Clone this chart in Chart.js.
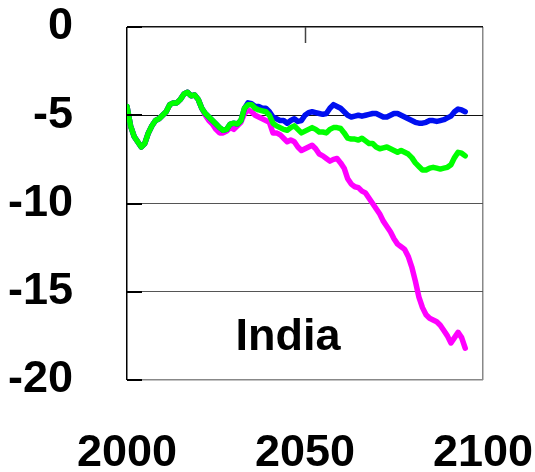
<!DOCTYPE html>
<html>
<head>
<meta charset="utf-8">
<script src="https://cdn.jsdelivr.net/npm/chart.js@4"></script>
<style>
  body { margin: 0; background: #fff; }
  #wrap { width: 535px; height: 472px; position: relative; }
</style>
</head>
<body>
<div id="wrap"><canvas id="c"></canvas></div>
<script>
// years 2000..2095, one value per year
const years = [];
for (let y = 2000; y <= 2095; y++) years.push(y);

const common = [-4.5,-5.6,-6.2,-6.5,-6.8,-6.6,-6.0,-5.6,-5.3,-5.2,-5.0,-4.8,-4.4,-4.3,-4.3,-4.1,-3.8,-3.7,-3.9,-3.85,-4.1,-4.6];

const greenTail = [-4.9,-5.1,-5.3,-5.5,-5.7,-5.85,-5.8,-5.5,-5.45,-5.5,-5.3,-4.6,-4.4,-4.4,-4.6,-4.7,-4.75,-4.8,-5.0,-5.45,
  -5.6,-5.7,-5.8,-5.85,-5.7,-5.6,-5.8,-6.0,-5.9,-5.8,-5.7,-5.8,-5.95,-5.95,-6.0,-5.8,-5.7,-5.7,-5.75,-6.0,
  -6.3,-6.35,-6.35,-6.4,-6.3,-6.45,-6.6,-6.6,-6.8,-6.9,-6.85,-6.8,-6.9,-7.0,-7.1,-7.0,-7.1,-7.2,-7.4,-7.7,
  -7.9,-8.1,-8.1,-8.0,-7.95,-8.0,-8.05,-8.0,-7.95,-7.8,-7.4,-7.1,-7.15,-7.3];

const blueTail = [-4.9,-5.1,-5.3,-5.5,-5.7,-5.85,-5.8,-5.5,-5.45,-5.5,-5.3,-4.6,-4.3,-4.35,-4.5,-4.5,-4.6,-4.6,-4.8,-5.1,
  -5.2,-5.3,-5.3,-5.45,-5.3,-5.2,-5.35,-5.3,-5.0,-4.85,-4.8,-4.85,-4.9,-4.95,-4.9,-4.6,-4.4,-4.5,-4.6,-4.8,
  -5.0,-5.1,-5.05,-5.0,-5.05,-5.0,-4.95,-4.9,-4.9,-5.0,-5.1,-5.1,-5.0,-4.9,-4.9,-5.0,-5.1,-5.2,-5.3,-5.4,
  -5.45,-5.45,-5.4,-5.3,-5.3,-5.35,-5.3,-5.25,-5.15,-5.05,-4.8,-4.65,-4.7,-4.8];

const magentaTail = [-5.0,-5.3,-5.5,-5.8,-6.0,-6.0,-5.9,-5.7,-5.8,-5.6,-5.4,-4.9,-4.7,-4.8,-5.0,-5.1,-5.2,-5.3,-5.4,-6.0,
  -6.0,-6.1,-6.3,-6.5,-6.4,-6.5,-6.8,-7.0,-6.9,-6.8,-6.7,-6.9,-7.2,-7.3,-7.45,-7.6,-7.5,-7.45,-7.7,-8.0,
  -8.6,-8.9,-9.05,-9.1,-9.3,-9.4,-9.7,-10.0,-10.3,-10.6,-11.0,-11.3,-11.6,-12.0,-12.3,-12.45,-12.6,-13.0,-13.6,-14.4,
  -15.3,-15.9,-16.3,-16.5,-16.6,-16.7,-16.9,-17.2,-17.5,-17.9,-17.6,-17.3,-17.6,-18.2];

const green = common.concat(greenTail);
const blue = common.concat(blueTail);
const magenta = common.concat(magentaTail);

const xTicks = [2000, 2050, 2100];
const yTicks = [0, -5, -10, -15, -20];
const regionLabel = 'India';

const FONT = 'Liberation Sans, Arial, sans-serif';

const pts = arr => arr.map((v, i) => ({ x: years[i], y: v }));

// keep the plot box where the reference has it
const pinBox = (prop, size) => s => {
  s[prop] = size;
  s.paddingTop = s.paddingBottom = s.paddingLeft = s.paddingRight = 0;
};

// short inward ticks + region label
const decor = {
  id: 'decor',
  afterDatasetsDraw(chart) {
    const { ctx, chartArea: a, scales: { x, y } } = chart;
    ctx.save();
    ctx.strokeStyle = '#000';
    ctx.lineWidth = 2;
    yTicks.forEach(v => {
      const py = Math.round(y.getPixelForValue(v));
      ctx.beginPath(); ctx.moveTo(a.left, py); ctx.lineTo(a.left + 15, py); ctx.stroke();
    });
    ctx.lineWidth = 1.5;
    ctx.strokeStyle = '#444';
    const px = Math.round(x.getPixelForValue(2050)) + 0.5;
    ctx.beginPath(); ctx.moveTo(px, a.top); ctx.lineTo(px, a.top + 16); ctx.stroke();

    ctx.fillStyle = '#000';
    ctx.font = 'bold 45px ' + FONT;
    ctx.textAlign = 'center';
    ctx.textBaseline = 'middle';
    ctx.fillText(regionLabel, x.getPixelForValue(2045.2), y.getPixelForValue(-17.6));
    ctx.restore();
  }
};

new Chart(document.getElementById('c'), {
  type: 'line',
  data: {
    datasets: [
      { data: pts(green), borderColor: '#00ff00', order: 1 },
      { data: pts(blue), borderColor: '#0010f0', order: 2 },
      { data: pts(magenta), borderColor: '#ff00ff', order: 3 }
    ]
  },
  options: {
    responsive: true,
    maintainAspectRatio: false,
    animation: false,
    layout: { padding: { top: 27, right: 52, left: 0, bottom: 0 } },
    elements: {
      point: { radius: 0 },
      line: { borderWidth: 5.5, tension: 0, borderJoinStyle: 'round', borderCapStyle: 'round' }
    },
    plugins: { legend: { display: false }, tooltip: { enabled: false } },
    scales: {
      x: {
        type: 'linear',
        min: 2000, max: 2100,
        afterFit: pinBox('height', 92),
        afterBuildTicks: s => { s.ticks = xTicks.map(v => ({ value: v })); },
        grid: {
          drawTicks: false,
          color: c => c.tick && c.tick.value === 2050 ? 'rgba(0,0,0,0)' : (c.tick && c.tick.value === 2000 ? '#000' : '#888'),
          lineWidth: 1.5
        },
        border: { display: false },
        ticks: {
          padding: 47,
          color: '#000',
          maxRotation: 0,
          callback: v => String(v),
          font: { family: FONT, size: 45, weight: 'bold' }
        }
      },
      y: {
        min: -20, max: 0,
        afterFit: pinBox('width', 127),
        afterBuildTicks: s => { s.ticks = yTicks.map(v => ({ value: v })); },
        grid: {
          drawTicks: false,
          color: c => {
            const v = c.tick && c.tick.value;
            if (v === 0 || v === -5) return '#111';
            if (v === -20) return '#888';
            return '#555';
          },
          lineWidth: c => (c.tick && (c.tick.value === 0 || c.tick.value === -20)) ? 1.5 : 1
        },
        border: { display: false },
        ticks: {
          padding: 54,
          color: '#000',
          callback: v => String(v),
          font: { family: FONT, size: 45, weight: 'bold' }
        }
      }
    }
  },
  plugins: [decor]
});
</script>
</body>
</html>
